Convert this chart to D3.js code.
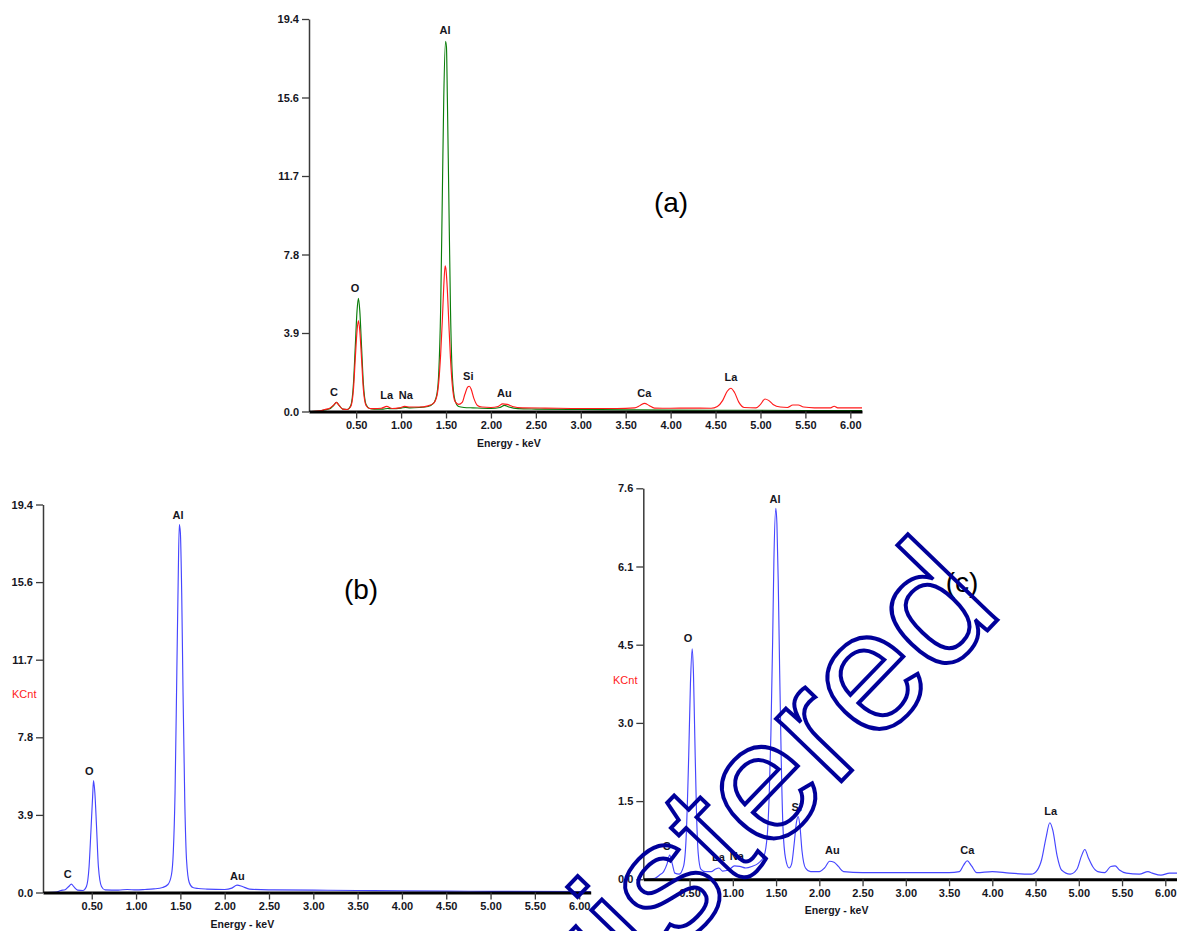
<!DOCTYPE html>
<html>
<head>
<meta charset="utf-8">
<script src="https://cdn.jsdelivr.net/npm/d3@7"></script>
<style>
  body { margin: 0; background: #fff; }
  svg text { font-family: "Liberation Sans", Arial, sans-serif; }
</style>
</head>
<body>
<svg id="chart" width="1177" height="931"></svg>
<script>
// ---- EDS spectra: [energy keV, counts KCnt] ----
const spectrumA_green = [
  [0.00,0.00],[0.10,0.02],[0.15,0.08],[0.20,0.12],[0.25,0.30],[0.28,0.45],[0.31,0.30],[0.35,0.12],
  [0.40,0.10],[0.44,0.30],[0.47,1.40],[0.49,3.20],[0.51,5.00],[0.525,5.60],[0.54,5.00],[0.56,3.20],
  [0.58,1.40],[0.61,0.35],[0.65,0.15],[0.70,0.12],[0.80,0.12],[0.85,0.15],[0.90,0.14],[1.00,0.17],
  [1.05,0.20],[1.10,0.18],[1.20,0.20],[1.30,0.25],[1.36,0.40],[1.40,0.90],[1.42,2.00],[1.44,5.00],
  [1.46,11.0],[1.475,15.5],[1.495,18.3],[1.505,18.0],[1.515,15.5],[1.53,11.0],[1.55,5.00],[1.57,1.80],
  [1.60,0.55],[1.64,0.25],[1.70,0.20],[1.80,0.18],[2.00,0.15],[2.10,0.20],[2.15,0.30],[2.20,0.22],
  [2.30,0.14],[2.50,0.12],[3.00,0.10],[3.50,0.08],[4.00,0.07],[4.50,0.06],[5.00,0.06],[5.50,0.05],
  [6.13,0.05]
];
const spectrumA_red = [
  [0.00,0.00],[0.10,0.03],[0.15,0.10],[0.20,0.15],[0.25,0.32],[0.28,0.45],[0.31,0.30],[0.35,0.12],
  [0.40,0.10],[0.44,0.25],[0.47,1.10],[0.49,2.60],[0.51,4.00],[0.525,4.50],[0.54,4.00],[0.56,2.60],
  [0.58,1.10],[0.61,0.30],[0.65,0.15],[0.70,0.14],[0.78,0.16],[0.84,0.25],[0.90,0.15],[0.98,0.18],
  [1.04,0.25],[1.10,0.22],[1.20,0.22],[1.30,0.28],[1.36,0.40],[1.40,0.80],[1.42,1.50],[1.44,2.80],
  [1.46,4.60],[1.475,6.20],[1.49,7.20],[1.50,7.00],[1.515,6.00],[1.53,4.50],[1.55,2.60],[1.57,1.30],
  [1.60,0.50],[1.64,0.35],[1.68,0.45],[1.71,0.85],[1.74,1.20],[1.76,1.25],[1.78,1.10],[1.81,0.65],
  [1.85,0.30],[1.90,0.22],[2.00,0.20],[2.08,0.25],[2.13,0.38],[2.18,0.35],[2.24,0.25],[2.35,0.18],
  [2.60,0.17],[3.00,0.15],[3.40,0.15],[3.60,0.18],[3.66,0.30],[3.71,0.40],[3.76,0.30],[3.82,0.17],
  [4.00,0.16],[4.20,0.17],[4.45,0.16],[4.52,0.25],[4.58,0.55],[4.63,1.00],[4.67,1.15],[4.71,0.95],
  [4.76,0.45],[4.82,0.20],[4.95,0.18],[5.00,0.35],[5.05,0.62],[5.09,0.55],[5.14,0.35],[5.22,0.22],
  [5.30,0.20],[5.36,0.32],[5.42,0.32],[5.48,0.22],[5.60,0.18],[5.78,0.18],[5.82,0.26],[5.86,0.18],
  [6.13,0.18]
];
const spectrumB = [
  [0.00,0.00],[0.10,0.02],[0.15,0.10],[0.20,0.14],[0.24,0.30],[0.27,0.42],[0.30,0.28],[0.34,0.12],
  [0.40,0.10],[0.44,0.30],[0.47,1.30],[0.49,3.00],[0.51,4.80],[0.52,5.60],[0.535,5.00],[0.555,3.20],
  [0.575,1.30],[0.61,0.30],[0.65,0.13],[0.80,0.12],[0.90,0.15],[1.00,0.13],[1.10,0.15],[1.20,0.18],
  [1.30,0.25],[1.36,0.40],[1.40,0.90],[1.42,2.00],[1.44,5.00],[1.46,11.0],[1.475,15.5],[1.488,18.4],
  [1.50,18.0],[1.515,15.0],[1.53,10.0],[1.55,4.50],[1.57,1.60],[1.60,0.50],[1.64,0.25],[1.70,0.20],
  [1.80,0.17],[2.00,0.15],[2.08,0.22],[2.14,0.37],[2.20,0.30],[2.28,0.17],[2.50,0.13],[3.00,0.12],
  [3.50,0.10],[4.00,0.08],[4.50,0.07],[5.00,0.06],[6.13,0.05]
];
const spectrumC = [
  [0.00,0.00],[0.10,0.02],[0.15,0.08],[0.20,0.15],[0.24,0.30],[0.27,0.47],[0.30,0.30],[0.33,0.12],
  [0.38,0.10],[0.43,0.25],[0.46,0.80],[0.49,2.40],[0.51,3.80],[0.53,4.48],[0.545,4.00],[0.56,2.80],
  [0.58,1.30],[0.60,0.50],[0.63,0.20],[0.68,0.15],[0.75,0.15],[0.80,0.20],[0.84,0.22],[0.88,0.16],
  [0.95,0.18],[1.02,0.26],[1.08,0.25],[1.15,0.22],[1.22,0.25],[1.30,0.32],[1.36,0.45],[1.40,0.90],
  [1.42,1.60],[1.44,2.80],[1.46,4.60],[1.475,6.20],[1.497,7.21],[1.51,6.90],[1.525,5.80],[1.54,4.20],
  [1.56,2.30],[1.58,1.00],[1.61,0.40],[1.65,0.22],[1.68,0.30],[1.71,0.70],[1.735,1.10],[1.755,1.22],
  [1.775,1.05],[1.80,0.55],[1.84,0.22],[1.90,0.15],[2.00,0.15],[2.06,0.22],[2.12,0.35],[2.17,0.33],
  [2.22,0.25],[2.28,0.15],[2.50,0.13],[3.00,0.13],[3.50,0.13],[3.62,0.15],[3.67,0.28],[3.71,0.36],
  [3.76,0.26],[3.82,0.13],[4.00,0.15],[4.20,0.12],[4.45,0.10],[4.52,0.18],[4.57,0.38],[4.62,0.80],
  [4.665,1.10],[4.70,0.95],[4.75,0.45],[4.80,0.18],[4.90,0.10],[4.98,0.20],[5.03,0.45],[5.07,0.58],
  [5.11,0.42],[5.16,0.25],[5.22,0.15],[5.30,0.13],[5.37,0.25],[5.42,0.26],[5.47,0.18],[5.55,0.12],
  [5.70,0.10],[5.80,0.15],[5.85,0.12],[5.95,0.08],[6.05,0.12],[6.14,0.12]
];

// ---- peak identification labels: [element, keV, KCnt of labelled peak] ----
const peaksA = [["C",0.254,0.45],["O",0.487,5.6],["La",0.84,0.32],["Na",1.052,0.32],["Al",1.489,18.36],
                ["Si",1.748,1.26],["Au",2.149,0.43],["Ca",3.707,0.43],["La",4.672,1.2]];
const peaksB = [["C",0.229,0.42],["O",0.473,5.57],["Al",1.474,18.37],["Au",2.143,0.32]];
const peaksC = [["C",0.237,0.46],["O",0.483,4.49],["La",0.834,0.245],["Na",1.046,0.26],["Al",1.489,7.19],
                ["Si",1.74,1.22],["Au",2.151,0.375],["Ca",3.712,0.375],["La",4.676,1.13]];

// ---- axis ticks ----
const energyTicks = [0.5,1.0,1.5,2.0,2.5,3.0,3.5,4.0,4.5,5.0,5.5,6.0];
const countTicksAB = [0, 3.88, 7.76, 11.64, 15.52, 19.4];
const countLabelsAB = ["0.0","3.9","7.8","11.7","15.6","19.4"];
const countTicksC = [0, 1.52, 3.04, 4.56, 6.08, 7.6];
const countLabelsC = ["0.0","1.5","3.0","4.5","6.1","7.6"];

const svg = d3.select("#chart");

function drawPanel(p) {
  const x = d3.scaleLinear().domain(p.xDomain).range(p.xRange);
  const y = d3.scaleLinear().domain([0, p.yMax]).range(p.yRange);
  const g = svg.append("g");

  // vertical count axis
  const yAxis = d3.axisLeft(y).tickValues(p.yTicks)
    .tickFormat((d, i) => p.yLabels[i]).tickSize(7).tickPadding(3).tickSizeOuter(0);
  const ga = g.append("g").attr("transform", `translate(${p.xRange[0]},0)`).call(yAxis);
  ga.select(".domain").attr("stroke", "#3a3a3a").attr("stroke-width", 1.5);
  ga.selectAll(".tick line").attr("stroke", "#3a3a3a").attr("stroke-width", 1.3);
  ga.selectAll(".tick text").attr("fill", "#16161e").style("font-size", "11px").style("font-weight", "bold");

  // spectra
  const line = d3.line().x(d => x(d[0])).y(d => y(d[1])).curve(d3.curveMonotoneX);
  p.series.forEach(s => {
    g.append("path").datum(s.data).attr("d", line)
      .attr("fill", "none").attr("stroke", s.color).attr("stroke-width", 1.15);
  });

  // energy axis
  const xAxis = d3.axisBottom(x).tickValues(energyTicks).tickFormat(d3.format(".2f"))
    .tickSize(7).tickPadding(3).tickSizeOuter(0);
  const gx = g.append("g").attr("transform", `translate(0,${p.yRange[0]})`).call(xAxis);
  gx.select(".domain").attr("stroke", "#000").attr("stroke-width", 3);
  gx.selectAll(".tick line").attr("stroke", "#3a3a3a").attr("stroke-width", 1.3);
  gx.selectAll(".tick text").attr("fill", "#16161e").style("font-size", "11px").style("font-weight", "bold");

  g.append("text").attr("x", x(2.2)).attr("y", p.yRange[0] + 35)
    .attr("text-anchor", "middle").attr("fill", "#16161e")
    .style("font-size", "10.5px").style("font-weight", "bold").text("Energy - keV");

  // element labels above peaks
  g.selectAll("text.peak").data(p.peaks).join("text").attr("class", "peak")
    .attr("x", d => x(d[1])).attr("y", d => y(d[2]) - 6)
    .attr("text-anchor", "middle").attr("fill", "#16161e")
    .style("font-size", "11px").style("font-weight", "bold").text(d => d[0]);

  if (p.unit) {
    g.append("text").attr("x", p.unit[0]).attr("y", p.unit[1]).attr("fill", "#ff1a1a")
      .style("font-size", "11px").text("KCnt");
  }
  g.append("text").attr("x", p.title[0]).attr("y", p.title[1]).attr("text-anchor", "middle")
    .attr("fill", "#000").style("font-size", "28px").text(p.title[2]);
}

drawPanel({
  xDomain: [-0.025, 6.13], xRange: [309, 862], yMax: 19.4, yRange: [411.5, 19],
  yTicks: countTicksAB, yLabels: countLabelsAB,
  series: [{data: spectrumA_green, color: "#0a7d0a"}, {data: spectrumA_red, color: "#ff1a1a"}],
  peaks: peaksA, title: [671, 212, "(a)"]
});
drawPanel({
  xDomain: [-0.05, 6.13], xRange: [43, 590.7], yMax: 19.4, yRange: [892.5, 504.5],
  yTicks: countTicksAB, yLabels: countLabelsAB,
  series: [{data: spectrumB, color: "#4646ff"}],
  peaks: peaksB, unit: [12, 698], title: [361, 599, "(b)"]
});
drawPanel({
  xDomain: [-0.035, 6.14], xRange: [643.3, 1177.4], yMax: 7.6, yRange: [879.3, 488.3],
  yTicks: countTicksC, yLabels: countLabelsC,
  series: [{data: spectrumC, color: "#4646ff"}],
  peaks: peaksC, unit: [613, 684], title: [962, 592, "(c)"]
});

// outlined stamp across the lower right
svg.append("text")
  .attr("transform", "translate(1005,612) rotate(-46)")
  .attr("text-anchor", "end")
  .attr("fill", "none").attr("stroke", "#00009a").attr("stroke-width", 4)
  .style("font-size", "171px")
  .text("Unregistered");
</script>
</body>
</html>
